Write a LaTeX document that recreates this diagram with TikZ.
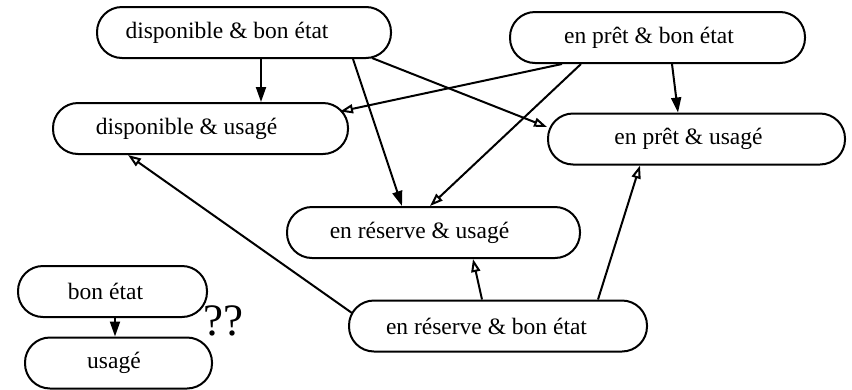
\documentclass[tikz,border=0pt]{standalone}
\usepackage{fontspec}
\setmainfont{Liberation Serif}
\usetikzlibrary{arrows.meta}
\begin{document}
\begin{tikzpicture}[x=1pt,y=-1pt,
  state/.style={draw, line width=2pt, rounded corners=25pt, minimum height=51pt, inner sep=0pt, font=\fontsize{23.5}{28}\selectfont},
  fa/.style={-{Triangle[length=15pt,width=10pt]}, line width=2pt},
  oa/.style={-{Triangle[open,length=13pt,width=9pt,line width=2pt]}, line width=2pt}]
\useasboundingbox (0,0) rectangle (852,389);
\node[state, minimum width=294pt] (db) at (244,32.5) {disponible \& bon état\hspace*{34pt}};
\node[state, minimum width=295pt] (du) at (200.5,128.5) {disponible \& usagé\hspace*{28pt}};
\node[state, minimum width=295pt] (pb) at (657.5,37.5) {en prêt \& bon état\hspace*{17pt}};
\node[state, minimum width=297pt] (pu) at (696.5,139) {en prêt \& usagé\hspace*{16pt}};
\node[state, minimum width=293pt] (ru) at (433.5,232.5) {en réserve \& usagé\hspace*{28pt}};
\node[state, minimum width=298pt] (rb) at (498,326) {en réserve \& bon état\hspace*{23pt}};
\node[state, minimum width=189pt] (be) at (112.5,291.5) {bon état\hspace*{14pt}};
\node[state, minimum width=187pt] (us) at (118.5,363) {usagé\hspace*{9pt}};
\node[font=\fontsize{45}{50}\selectfont, inner sep=0pt] (q) at (223,321) {??};
% edges
\draw[fa] ([xshift=17pt]db.south) -- ([xshift=60.5pt]du.north);
\draw[fa] ([xshift=109pt]db.south) -- ([xshift=-31.5pt]ru.north);
\draw[oa] ([xshift=128pt,yshift=1pt]db.south) -- ([yshift=12pt]pu.west);
\draw[oa] ([xshift=-95.5pt]pb.south) -- ([xshift=-9pt,yshift=17pt]du.east);
\draw[oa] ([xshift=-76.5pt]pb.south) -- ([xshift=-3.5pt]ru.north);
\draw[fa] ([xshift=14.5pt]pb.south) -- ([xshift=-18.5pt]pu.north);
\draw[oa] ([xshift=4pt,yshift=13pt]rb.west) -- ([xshift=-72.5pt]du.south);
\draw[oa] ([xshift=-16pt]rb.north) -- ([xshift=39.5pt]ru.south);
\draw[oa] ([xshift=100pt]rb.north) -- ([xshift=-56.5pt]pu.south);
\draw[fa] ([xshift=2.5pt]be.south) -- ([xshift=-3.5pt]us.north);
\end{tikzpicture}
\end{document}
